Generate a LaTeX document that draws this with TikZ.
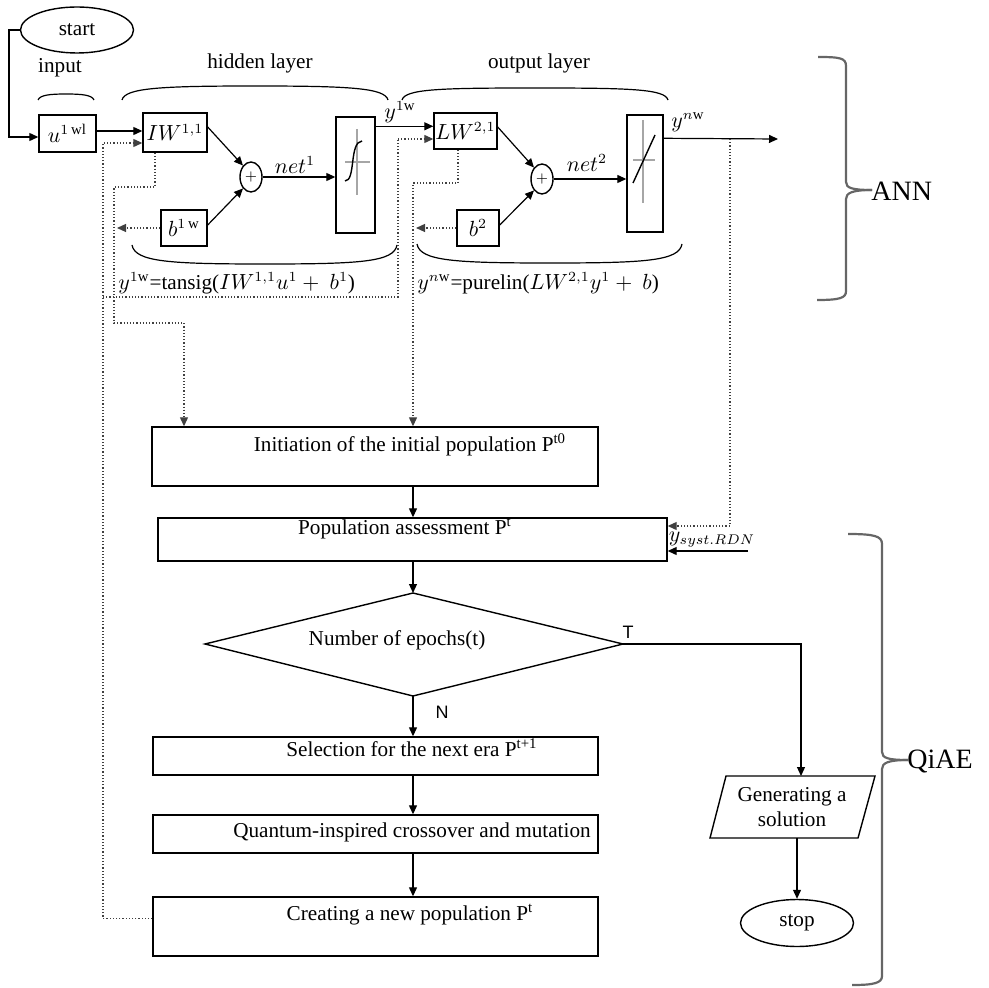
\documentclass[tikz,border=0pt]{standalone}
\usepackage{fontspec}
\setmainfont{Liberation Serif}
\newfontfamily\sansf{Liberation Sans}
\usetikzlibrary{arrows.meta,shapes.geometric}
\begin{document}
\begin{tikzpicture}[x=0.5pt,y=-0.5pt,
  font=\fontsize{10.6}{12.5}\selectfont,
  arr/.style={-{Triangle[length=4.5pt,width=4pt]}, line width=0.6pt},
  dots/.style={densely dotted, line width=0.6pt, draw=black!75},
  darr/.style={dots, -{Triangle[length=4.5pt,width=4pt]}},
  box/.style={draw, line width=0.7pt, inner sep=0pt},
  lbl/.style={inner sep=0pt},
  brace/.style={line width=0.6pt},
  bigbrace/.style={line width=1.1pt, draw=black!60},
  icon/.style={line width=1.3pt, draw=black!35},
]
\useasboundingbox (0,0) rectangle (988,988);

% ---------- ANN part ----------
\node[box, ellipse, minimum width=56.5pt, minimum height=23pt] (start) at (77,30) {start};
\node[lbl] (linput) at (60,68) {input};
\node[lbl] (lhidden) at (260,63) {hidden layer};
\node[lbl] (loutput) at (539,63) {output layer};

\draw[brace] (38,100) .. controls (40,95) and (50,94) .. (66,94) .. controls (82,94) and (92,95) .. (94,100);
\draw[brace] (122,100) .. controls (125,88) and (160,86) .. (255,86) .. controls (350,86) and (385,88) .. (388,100);
\draw[brace] (402,100) .. controls (405,89) and (440,88) .. (535,88) .. controls (630,88) and (665,89) .. (668,100);
\draw[brace] (132,245) .. controls (135,262) and (170,264) .. (265,264) .. controls (360,264) and (394,262) .. (397,245);
\draw[brace] (417,244) .. controls (420,261) and (455,263) .. (550,263) .. controls (645,263) and (679,261) .. (682,244);

\node[box, minimum width=28.5pt, minimum height=18.5pt] (u) at (67.5,133.5) {$u^{1\,\mathrm{wl}}$};
\node[box, minimum width=32pt, minimum height=19.5pt] (IW) at (175,132.5) {$IW^{1,1}$};
\node[box, minimum width=23pt, minimum height=18pt] (b1) at (184,228) {$b^{1\,\mathrm{w}}$};
\node[box, ellipse, minimum width=11pt, minimum height=15pt] (s1) at (251,177) {\fontsize{7}{8}\selectfont $+$};
\node[box, minimum width=19.5pt, minimum height=58pt] (sig1) at (355.5,175) {};
\draw[icon] (357,129) -- (357,195);
\draw[icon] (345,162) -- (370,162);
\draw[line width=0.7pt] (345,181) .. controls (356,181) and (349,142) .. (362,141);
\node[lbl] (net1) at (295,165) {$net^{1}$};

\node[box, minimum width=31.5pt, minimum height=18pt] (LW) at (465.5,131) {$LW^{2,1}$};
\node[box, minimum width=21pt, minimum height=18pt] (b2) at (478,228) {$b^{2}$};
\node[box, ellipse, minimum width=11pt, minimum height=15pt] (s2) at (542,179) {\fontsize{7}{8}\selectfont $+$};
\node[box, minimum width=18pt, minimum height=58.5pt] (sig2) at (645,173.5) {};
\draw[icon] (643,120) -- (643,203);
\draw[icon] (633,160) -- (655,160);
\draw[line width=0.7pt] (633,183) -- (655,135);
\node[lbl] (net2) at (587,163) {$net^{2}$};

\node[lbl] (ly1) at (400,112) {$y^{1\mathrm{w}}$};
\node[lbl] (lyn) at (688,122) {$y^{n\mathrm{w}}$};

\node[lbl, anchor=west] (f1) at (118,283) {$y^{1\mathrm{w}}$=tansig($IW^{1,1}u^{1}+\ b^{1}$)};
\node[lbl, anchor=west] (f2) at (417,283) {$y^{n\mathrm{w}}$=purelin($LW^{2,1}y^{1}+\ b$)};

% solid connectors ANN
\coordinate (c1) at (9,137);
\draw[arr] (start.west) -| (c1) -- (c1 -| u.west);
\draw[arr] ([yshift=1.25pt]u.east) -- ([yshift=1.25pt]u.east -| IW.west);
\draw[arr] ([yshift=2.75pt]IW.east) -- (s1.125);
\draw[arr] ([yshift=1.5pt]b1.east) -- (s1.235);
\draw[arr] (s1.east) -- (s1.east -| sig1.west);
\draw[arr] ([yshift=-5pt]sig1.north east) -- ([yshift=-5pt]sig1.north east -| LW.west);
\draw[arr] ([yshift=2pt]LW.east) -- (s2.125);
\draw[arr] ([yshift=1.5pt]b2.east) -- (s2.235);
\draw[arr] (s2.east) -- (s2.east -| sig2.west);
\coordinate (outEnd) at (778,139);
\draw[arr] ([yshift=-12pt]sig2.north east) -- (outEnd);

% ---------- QiAE part ----------
\node[box, minimum width=223pt, minimum height=29.5pt] (Init) at (375,456.5) {};
\node[lbl] (tInit) at (410,445) {Initiation of the initial population P\textsuperscript{t0}};
\node[box, minimum width=254.5pt, minimum height=21.5pt] (Pop) at (412.5,539.5) {};
\node[lbl] (tPop) at (405,529) {Population assessment P\textsuperscript{t}};

\coordinate (dtop) at (413,593);
\coordinate (dleft) at (205,644);
\coordinate (dright) at (623,644);
\coordinate (dbot) at (413,696);
\draw[line width=0.7pt] (dtop) -- (dright) -- (dbot) -- (dleft) -- cycle;
\node[lbl] (tDia) at (397,640) {Number of epochs(t)};
\node[lbl, font=\sansf\fontsize{9}{10}\selectfont] (lT) at (628,632) {T};
\node[lbl, font=\sansf\fontsize{9}{10}\selectfont] (lN) at (442,712) {N};

\node[box, minimum width=222.5pt, minimum height=19pt] (Sel) at (375.5,756) {};
\node[lbl] (tSel) at (412,748) {Selection for the next era P\textsuperscript{t+1}};
\node[box, minimum width=222.5pt, minimum height=19pt] (Quant) at (375.5,834) {};
\node[lbl] (tQuant) at (412,832) {Quantum-inspired crossover and mutation};
\node[box, minimum width=222.5pt, minimum height=29.5pt] (Create) at (375.5,926.5) {};
\node[lbl] (tCreate) at (410,915) {Creating a new population P\textsuperscript{t}};

\coordinate (p1) at (726,776);
\coordinate (p2) at (875,776);
\coordinate (p3) at (858,838);
\coordinate (p4) at (710,838);
\draw[line width=0.7pt] (p1) -- (p2) -- (p3) -- (p4) -- cycle;
\node[lbl, align=center] (gen) at (792,807) {Generating a\\solution};
\coordinate (genTop) at (801,776);
\coordinate (genBot) at (797,838);
\node[box, ellipse, minimum width=56.5pt, minimum height=23.5pt] (stop) at (797,923) {stop};

\draw[arr] (Init.south -| dtop) -- (Pop.north -| dtop);
\draw[arr] (Pop.south -| dtop) -- (dtop);
\draw[arr] (dbot) -- (Sel.north -| dbot);
\draw[arr] (Sel.south -| dbot) -- (Quant.north -| dbot);
\draw[arr] (Quant.south -| dbot) -- (Create.north -| dbot);
\draw[arr] (dright) -| (genTop);
\draw[arr] (genBot) -- (stop.north);

% ---------- dotted feedback ----------
\coordinate (fbA) at (103,297);
\coordinate (fbB) at (398,297);
\coordinate (fbC) at (398,139);
\draw[darr] ([yshift=4pt]Create.west) -| (103,143) -- (103,143 -| IW.west);
\draw[dots] (fbA) -- (fbB) -- (fbC);
\draw[darr] (fbC) -- (fbC -| LW.west);
\draw[darr] ([xshift=-10pt]IW.south) |- (114,187) |- (184,323) -- (Init.north -| 184,0);
\draw[darr] (b1.west) -- (b1.west -| 117,0);
\draw[darr] ([xshift=-3.75pt]LW.south) |- (413,183) -- (Init.north -| 413,0);
\draw[darr] (b2.west) -- (b2.west -| 416,0);
\coordinate (tap) at (730,139);
\draw[darr] (tap) |- ([yshift=6.75pt]Pop.east);
\coordinate (ysys) at (748,551);
\draw[arr] (ysys) -- (ysys -| Pop.east);
\node[lbl] (lysys) at (712,540) {$y_{syst.RDN}$};

% ---------- big braces ----------
\draw[bigbrace] (818,57) .. controls (840,57) and (846,58) .. (846,66) -- (846,182)
  .. controls (846,188) and (852,190) .. (872,190);
\draw[bigbrace] (872,190) .. controls (852,190) and (846,193) .. (846,199) -- (846,291)
  .. controls (846,298) and (840,300) .. (817,300);
\node[lbl, font=\fontsize{14}{16}\selectfont, anchor=west] (lANN) at (871,191) {ANN};

\draw[bigbrace] (848,534) .. controls (874,534) and (882,536) .. (882,544) -- (882,752)
  .. controls (882,758) and (888,760) .. (908,760);
\draw[bigbrace] (908,760) .. controls (888,760) and (882,763) .. (882,769) -- (882,976)
  .. controls (882,983) and (874,985) .. (852,985);
\node[lbl, font=\fontsize{14}{16}\selectfont, anchor=west] (lQ) at (907,761) {QiAE};
\end{tikzpicture}
\end{document}
